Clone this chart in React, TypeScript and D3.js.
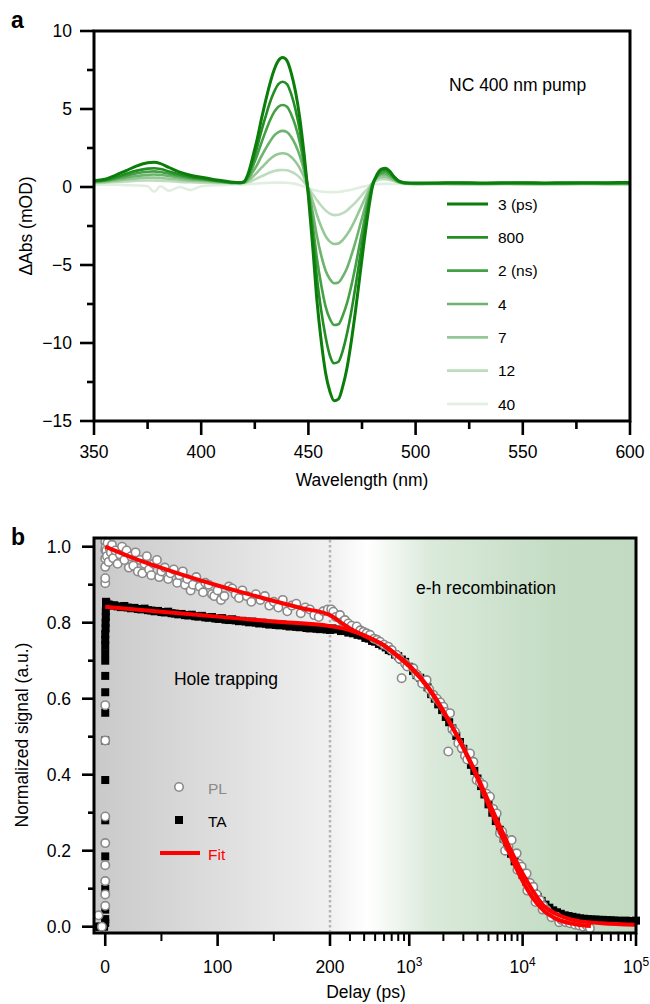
import React from "react";
import * as d3 from "d3";

const FONT = "'Liberation Sans', Arial, Helvetica, sans-serif";

// ---- panel a: transient absorption spectra ----
const wavelengths = [
  350, 355, 360, 365, 370, 375, 378, 381, 385, 390, 395, 400, 405, 410, 415,
  418, 420, 422, 424, 426, 428, 430, 432, 434, 436, 438, 440, 442, 444, 446, 448,
  450, 452, 454, 456, 458, 460, 462, 464, 466, 468, 470, 472, 474, 476, 478, 480,
  482, 484, 486, 488, 490, 492, 495,
  500, 510, 520, 530, 540, 550, 560, 570, 580, 590, 600,
];

const spec3ps = [
  0.4, 0.5, 0.75, 1.05, 1.35, 1.55, 1.58, 1.5, 1.25, 0.95, 0.75, 0.62, 0.5, 0.4, 0.3,
  0.28, 0.35, 0.9, 1.9, 3.0, 4.3, 5.5, 6.6, 7.5, 8.1, 8.3, 8.1, 7.3, 6.1, 4.4, 2.1,
  -0.6, -3.8, -7.3, -9.9, -11.9, -13.1, -13.7, -13.6, -12.8, -11.6, -9.9, -7.9, -5.7, -3.5, -1.5, 0.1,
  0.8, 1.15, 1.2, 1.0, 0.65, 0.4, 0.28,
  0.25, 0.26, 0.28, 0.26, 0.27, 0.28, 0.26, 0.28, 0.27, 0.28, 0.29,
];
const spec800ps = [
  0.38, 0.45, 0.62, 0.85, 1.05, 1.18, 1.2, 1.15, 1.0, 0.8, 0.65, 0.55, 0.45, 0.36, 0.28,
  0.27, 0.33, 0.78, 1.6, 2.5, 3.55, 4.5, 5.4, 6.1, 6.6, 6.75, 6.6, 5.95, 4.95, 3.6, 1.7,
  -0.45, -3.0, -5.85, -7.95, -9.6, -10.8, -11.3, -11.2, -10.5, -9.4, -8.0, -6.35, -4.55, -2.8, -1.15, 0.15,
  0.75, 1.05, 1.1, 0.92, 0.6, 0.38, 0.26,
  0.24, 0.25, 0.26, 0.24, 0.25, 0.26, 0.24, 0.25, 0.26, 0.25, 0.26,
];
const spec2ns = [
  0.35, 0.42, 0.55, 0.72, 0.88, 0.98, 1.0, 0.96, 0.85, 0.7, 0.58, 0.5, 0.42, 0.34, 0.27,
  0.27, 0.31, 0.66, 1.3, 2.0, 2.8, 3.55, 4.25, 4.8, 5.15, 5.26, 5.15, 4.65, 3.9, 2.85, 1.4,
  -0.3, -2.4, -4.6, -6.3, -7.65, -8.45, -8.85, -8.8, -8.25, -7.45, -6.35, -5.05, -3.6, -2.2, -0.85, 0.2,
  0.7, 0.92, 0.95, 0.8, 0.55, 0.35, 0.25,
  0.23, 0.24, 0.25, 0.23, 0.24, 0.25, 0.23, 0.24, 0.25, 0.24, 0.25,
];
const spec4ns = [
  0.32, 0.38, 0.48, 0.6, 0.7, 0.78, 0.8, 0.77, 0.7, 0.6, 0.5, 0.45, 0.38, 0.32, 0.26,
  0.26, 0.29, 0.52, 0.95, 1.4, 1.95, 2.45, 2.9, 3.3, 3.52, 3.6, 3.52, 3.2, 2.7, 2.0, 1.05,
  -0.15, -1.6, -3.15, -4.4, -5.35, -5.9, -6.17, -6.12, -5.75, -5.2, -4.4, -3.5, -2.5, -1.5, -0.55, 0.25,
  0.62, 0.8, 0.8, 0.68, 0.5, 0.33, 0.24,
  0.22, 0.23, 0.22, 0.21, 0.23, 0.22, 0.21, 0.22, 0.23, 0.22, 0.22,
];
const spec7ns = [
  0.28, 0.33, 0.4, 0.48, 0.55, 0.6, 0.6, 0.58, 0.53, 0.46, 0.4, 0.38, 0.33, 0.29, 0.25,
  0.25, 0.27, 0.4, 0.65, 0.92, 1.22, 1.5, 1.78, 2.0, 2.12, 2.16, 2.12, 1.92, 1.62, 1.2, 0.62,
  -0.1, -0.9, -1.8, -2.55, -3.15, -3.5, -3.65, -3.62, -3.4, -3.05, -2.6, -2.05, -1.45, -0.85, -0.25, 0.3,
  0.55, 0.65, 0.65, 0.55, 0.42, 0.3, 0.23,
  0.2, 0.21, 0.2, 0.19, 0.21, 0.2, 0.19, 0.2, 0.21, 0.2, 0.2,
];
const spec12ns = [
  0.25, 0.28, 0.32, 0.36, 0.4, 0.42, 0.42, 0.4, 0.38, 0.33, 0.3, 0.28, 0.26, 0.25, 0.24,
  0.25, 0.26, 0.32, 0.42, 0.55, 0.68, 0.8, 0.93, 1.02, 1.08, 1.09, 1.07, 0.98, 0.83, 0.6, 0.3,
  -0.05, -0.45, -0.85, -1.2, -1.5, -1.7, -1.8, -1.78, -1.68, -1.5, -1.25, -0.98, -0.68, -0.35, -0.05, 0.25,
  0.42, 0.5, 0.5, 0.45, 0.38, 0.3, 0.22,
  0.18, 0.19, 0.18, 0.17, 0.19, 0.18, 0.17, 0.18, 0.19, 0.18, 0.18,
];
const spec40ns = [
  0.12, 0.14, 0.15, 0.12, 0.1, 0.05, -0.3, 0.05, -0.25, 0.0, -0.2, 0.05, 0.1, 0.12, 0.14,
  0.15, 0.16, 0.18, 0.2, 0.22, 0.24, 0.26, 0.27, 0.28, 0.28, 0.28, 0.27, 0.24, 0.2, 0.12, 0.02,
  -0.08, -0.17, -0.24, -0.29, -0.32, -0.33, -0.33, -0.31, -0.28, -0.23, -0.17, -0.1, -0.03, 0.04, 0.1, 0.15,
  0.18, 0.2, 0.2, 0.2, 0.19, 0.19, 0.18,
  0.15, 0.14, 0.15, 0.13, 0.14, 0.15, 0.13, 0.14, 0.15, 0.14, 0.14,
];

const delayLabels = ["3 (ps)", "800", "2 (ns)", "4", "7", "12", "40"];
const spectra = [spec3ps, spec800ps, spec2ns, spec4ns, spec7ns, spec12ns, spec40ns];
const greens = ["#0a7d0a", "#238e23", "#44a044", "#6cb36c", "#94c894", "#bcdcbc", "#e0efe0"];

// ---- panel b: kinetics ----
// [delay ps, normalized signal]
const plPoints = [
  [-6, 0.03], [-3, 0.0], [0, 0.055], [0, 0.085], [0, 0.12], [0, 0.162], [0, 0.22], [0, 0.29],
  [0, 0.49], [0, 0.583], [0, 0.904], [0, 0.917], [0, 0.947], [0, 0.969], [0, 0.991], [0, 1.013],
  [0.5, 1.0], [1, 0.99], [1.5, 0.975], [2, 1.01], [3, 0.96], [4, 0.995], [5, 0.985], [6, 1.005],
  [7, 0.97], [9, 0.99], [11, 0.955], [13, 0.98], [15, 1.0], [17, 0.965], [19, 0.99], [21, 0.945],
  [23, 0.975], [25, 0.95], [27, 0.985], [29, 0.935], [31, 0.965], [33, 0.93], [35, 0.955], [37, 0.975],
  [39, 0.94], [41, 0.925], [43, 0.955], [46, 0.965], [48, 0.92], [50, 0.935], [53, 0.945], [56, 0.915],
  [58, 0.93], [61, 0.94], [64, 0.905], [66, 0.925], [69, 0.935], [71, 0.9], [73, 0.915], [76, 0.885],
  [78, 0.9], [81, 0.92], [84, 0.895], [87, 0.88], [89, 0.905], [92, 0.9], [95, 0.875], [97, 0.87],
  [100, 0.885], [103, 0.86], [106, 0.87], [110, 0.895], [113, 0.89], [116, 0.875], [119, 0.865],
  [122, 0.885], [126, 0.87], [130, 0.855], [134, 0.875], [138, 0.86], [142, 0.87], [146, 0.845],
  [150, 0.855], [154, 0.84], [158, 0.86], [162, 0.83], [166, 0.845], [170, 0.85], [174, 0.825],
  [178, 0.84], [182, 0.835], [186, 0.82], [190, 0.815], [194, 0.83], [198, 0.835],
  [205, 0.835], [214, 0.829], [225, 0.815], [245, 0.82], [260, 0.803], [271, 0.807], [290, 0.798],
  [310, 0.792], [344, 0.79], [370, 0.78], [394, 0.776], [420, 0.772], [451, 0.768], [490, 0.758],
  [520, 0.755], [552, 0.75], [600, 0.742], [653, 0.737], [700, 0.728], [774, 0.715], [820, 0.705],
  [857, 0.654], [917, 0.693], [960, 0.685], [1086, 0.68], [1150, 0.665], [1202, 0.658], [1300, 0.64],
  [1423, 0.649], [1500, 0.625], [1630, 0.61], [1750, 0.6], [1880, 0.59], [1997, 0.579], [2100, 0.565],
  [2211, 0.461], [2286, 0.562], [2400, 0.52], [2530, 0.513], [2708, 0.483], [2900, 0.47], [3100, 0.45],
  [3250, 0.44], [3432, 0.456], [3674, 0.434], [3930, 0.386], [4200, 0.38], [4500, 0.373], [4800, 0.35],
  [5152, 0.342], [5500, 0.31], [5900, 0.298], [6312, 0.246], [6600, 0.25], [6980, 0.228], [7000, 0.2],
  [7500, 0.21], [8000, 0.228], [8400, 0.19], [8860, 0.193], [9000, 0.15], [9300, 0.165], [9800, 0.158],
  [10300, 0.14], [10840, 0.14], [11000, 0.095], [11600, 0.115], [12420, 0.105], [13000, 0.065],
  [13300, 0.085], [14220, 0.07], [15000, 0.045], [15200, 0.055], [16290, 0.044], [17800, 0.032],
  [18000, 0.025], [19940, 0.026], [21000, 0.012], [22000, 0.018], [24000, 0.012], [26140, 0.009],
  [29000, 0.005], [31500, 0.003], [34280, 0.0], [37000, 0.002], [39240, -0.004],
];

const taPoints = [
  [-7, 0.0], [-5, 0.0], [-3, 0.0], [-1, 0.0], [0, 0.01], [0, 0.02], [0, 0.045], [0, 0.1], [0, 0.185],
  [0, 0.28], [0, 0.386], [0, 0.49], [0, 0.563], [0, 0.617], [0, 0.66], [0, 0.7], [0, 0.72], [0, 0.74],
  [0, 0.755], [0, 0.77], [0.3, 0.785], [0.3, 0.8], [0.5, 0.815], [0.5, 0.83], [0.7, 0.845], [0.7, 0.855],
  [1, 0.852], [3, 0.848], [5, 0.845], [8, 0.846], [11, 0.843], [14, 0.841], [17, 0.844], [20, 0.84],
  [23, 0.838], [26, 0.839], [29, 0.836], [32, 0.835], [35, 0.837], [38, 0.833], [41, 0.832], [44, 0.83],
  [47, 0.831], [50, 0.828], [53, 0.827], [56, 0.829], [59, 0.825], [62, 0.824], [65, 0.822], [68, 0.823],
  [71, 0.82], [74, 0.819], [77, 0.821], [80, 0.817], [83, 0.816], [86, 0.818], [89, 0.814], [92, 0.813],
  [95, 0.815], [98, 0.811], [101, 0.81], [104, 0.812], [107, 0.808], [110, 0.807], [113, 0.809],
  [116, 0.806], [119, 0.804], [122, 0.805], [125, 0.803], [128, 0.801], [131, 0.803], [134, 0.8],
  [137, 0.798], [140, 0.8], [143, 0.797], [146, 0.795], [149, 0.797], [152, 0.794], [155, 0.793],
  [158, 0.795], [161, 0.792], [164, 0.79], [167, 0.792], [170, 0.789], [173, 0.788], [176, 0.79],
  [179, 0.786], [182, 0.785], [185, 0.787], [188, 0.784], [191, 0.783], [194, 0.785], [197, 0.782],
  [200, 0.781], [210, 0.785], [230, 0.782], [250, 0.778], [270, 0.779], [290, 0.774], [320, 0.772],
  [350, 0.768], [380, 0.766], [410, 0.76], [440, 0.758], [470, 0.752], [500, 0.75], [540, 0.744],
  [580, 0.74], [620, 0.735], [660, 0.728], [700, 0.725], [750, 0.716], [800, 0.712], [860, 0.703],
  [920, 0.697], [1000, 0.684], [1080, 0.673], [1160, 0.662], [1250, 0.655], [1350, 0.64], [1450, 0.63],
  [1560, 0.612], [1680, 0.6], [1800, 0.585], [1950, 0.57], [2100, 0.552], [2250, 0.538], [2400, 0.522],
  [2600, 0.502], [2800, 0.486], [3000, 0.468], [3250, 0.448], [3500, 0.426], [3750, 0.41], [4000, 0.39],
  [4300, 0.37], [4600, 0.348], [5000, 0.322], [5400, 0.3], [5800, 0.278], [6300, 0.255], [6800, 0.232],
  [7300, 0.21], [7900, 0.192], [8500, 0.172], [9200, 0.152], [10000, 0.136], [10800, 0.118],
  [11700, 0.104], [12600, 0.09], [13600, 0.078], [14700, 0.068], [15900, 0.058], [17200, 0.05],
  [18600, 0.043], [20100, 0.038], [21700, 0.034], [23500, 0.03], [25400, 0.028], [27500, 0.026],
  [29700, 0.024], [32100, 0.022], [34700, 0.021], [37500, 0.02], [40500, 0.019], [43800, 0.019],
  [47300, 0.018], [51100, 0.018], [55200, 0.017], [59700, 0.017], [64500, 0.016], [69700, 0.016],
  [75300, 0.015], [81400, 0.016], [88000, 0.015], [95100, 0.015], [100000, 0.016],
];

const fitPl = [
  [0, 1.0], [25, 0.97], [50, 0.944], [75, 0.92], [100, 0.898], [125, 0.877], [150, 0.857], [175, 0.838],
  [200, 0.82], [250, 0.8], [300, 0.785], [400, 0.766], [600, 0.74], [800, 0.712], [1000, 0.688],
  [1500, 0.627], [2000, 0.568], [3000, 0.47], [4000, 0.39], [5000, 0.32], [6000, 0.265], [8000, 0.18],
  [10000, 0.12], [12000, 0.08], [15000, 0.045], [20000, 0.02], [30000, 0.006], [40000, 0.002],
];
const fitTa = [
  [0, 0.842], [50, 0.829], [100, 0.816], [150, 0.803], [200, 0.791], [300, 0.78], [400, 0.767],
  [600, 0.74], [800, 0.71], [1000, 0.685], [1500, 0.624], [2000, 0.565], [3000, 0.472], [4000, 0.395],
  [5000, 0.33], [6000, 0.278], [8000, 0.197], [10000, 0.14], [12000, 0.1], [15000, 0.058],
  [20000, 0.033], [30000, 0.016], [50000, 0.009], [100000, 0.005],
];

const linTicks = [0, 100, 200];
const logTicks = [1e3, 1e4, 1e5];

function PanelA() {
  const x = d3.scaleLinear().domain([350, 600]).range([94, 630]);
  const y = d3.scaleLinear().domain([-15, 10]).range([421, 31]);
  const line = d3
    .line<number>()
    .x((_, i) => x(wavelengths[i]))
    .y((d) => y(d))
    .curve(d3.curveMonotoneX);

  const xMajor = d3.range(350, 601, 50);
  const xMinor = d3.range(375, 600, 50);
  const yMajor = d3.range(-15, 11, 5);
  const yMinor = d3.range(-12.5, 10, 5);
  const legendY = d3.scaleLinear().domain([0, 6]).range([204, 404]);

  return (
    <g>
      <text x={11} y={28} fontSize={23} fontWeight="bold">a</text>
      {/* curves, lightest first */}
      {spectra
        .map((s, i) => ({ s, i }))
        .reverse()
        .map(({ s, i }) => (
          <path key={i} d={line(s) || ""} fill="none" stroke={greens[i]}
            strokeWidth={i === 0 ? 3 : 2.6} strokeLinejoin="round" />
        ))}
      {/* frame */}
      <rect x={94} y={31} width={536} height={390} fill="none" stroke="#000" strokeWidth={3} />
      {yMajor.map((v) => (
        <g key={v}>
          <line x1={80} x2={94} y1={y(v)} y2={y(v)} stroke="#000" strokeWidth={2.6} />
          <text x={72} y={y(v)} dy="0.36em" textAnchor="end" fontSize={17.5}>
            {v < 0 ? "\u2212" + Math.abs(v) : v}
          </text>
        </g>
      ))}
      {yMinor.map((v) => (
        <line key={v} x1={87} x2={94} y1={y(v)} y2={y(v)} stroke="#000" strokeWidth={2.6} />
      ))}
      {xMajor.map((v) => (
        <g key={v}>
          <line x1={x(v)} x2={x(v)} y1={421} y2={435} stroke="#000" strokeWidth={2.6} />
          <text x={x(v)} y={458} textAnchor="middle" fontSize={17.5}>{v}</text>
        </g>
      ))}
      {xMinor.map((v) => (
        <line key={v} x1={x(v)} x2={x(v)} y1={421} y2={429} stroke="#000" strokeWidth={2.6} />
      ))}
      <text x={362} y={486} textAnchor="middle" fontSize={17.5}>Wavelength (nm)</text>
      <text transform={`translate(32,226) rotate(-90)`} textAnchor="middle" fontSize={17.5}>
        ΔAbs (mOD)
      </text>
      <text x={449} y={91} fontSize={17.5}>NC 400 nm pump</text>
      {delayLabels.map((d, i) => (
        <g key={d}>
          <line x1={447} x2={488} y1={legendY(i)} y2={legendY(i)} stroke={greens[i]}
            strokeWidth={i === 0 ? 3 : 2.6} />
          <text x={498} y={legendY(i)} dy="0.36em" fontSize={15.5}>{d}</text>
        </g>
      ))}
    </g>
  );
}

function PanelB() {
  const xLin = d3.scaleLinear().domain([-10, 200]).range([94, 330]);
  const xLog = d3.scaleLog().domain([200, 1e5]).range([330, 636]);
  const fx = (t: number) => (t <= 200 ? xLin(t) : xLog(t));
  const y = d3.scaleLinear().domain([0, 1]).range([926.7, 546.7]);
  const fitLine = d3
    .line<number[]>()
    .x((d) => fx(d[0]))
    .y((d) => y(d[1]))
    .curve(d3.curveMonotoneX);

  const linMinor = [50, 150];
  const logMinor: number[] = [];
  [100, 1000, 10000].forEach((dec) => {
    for (let k = 2; k <= 9; k++) {
      const t = k * dec;
      if (t > 200) logMinor.push(t);
    }
  });
  const yMajor = [0, 0.2, 0.4, 0.6, 0.8, 1.0];
  const yMinor = [0.1, 0.3, 0.5, 0.7, 0.9];

  return (
    <g>
      <defs>
        <linearGradient id="bgB" gradientUnits="userSpaceOnUse" x1={94} x2={636} y1={0} y2={0}>
          <stop offset="0" stopColor="#c9c9c9" />
          <stop offset="0.435" stopColor="#f0f0f0" />
          <stop offset="0.505" stopColor="#ffffff" />
          <stop offset="0.62" stopColor="#dbeadb" />
          <stop offset="0.85" stopColor="#c4dcc4" />
          <stop offset="1" stopColor="#c2dac2" />
        </linearGradient>
      </defs>
      <text x={11} y={545} fontSize={23} fontWeight="bold">b</text>
      <rect x={94} y={538} width={542} height={395} fill="url(#bgB)" />
      <line x1={330} x2={330} y1={540} y2={931} stroke="#b4b4b4" strokeWidth={2.5}
        strokeDasharray="2.5,2.5" />
      {taPoints.map((d, i) => (
        <rect key={i} x={fx(d[0]) - 4} y={y(d[1]) - 4} width={8} height={8} fill="#000" />
      ))}
      {plPoints.map((d, i) => (
        <circle key={i} cx={fx(d[0])} cy={y(d[1])} r={4.2} fill="#fff" stroke="#8a8a8a"
          strokeWidth={1.6} />
      ))}
      <path d={fitLine(fitPl) || ""} fill="none" stroke="#ff0000" strokeWidth={4} />
      <path d={fitLine(fitTa) || ""} fill="none" stroke="#ff0000" strokeWidth={4} />
      {/* frame */}
      <rect x={94} y={538} width={542} height={395} fill="none" stroke="#000" strokeWidth={3} />
      {yMajor.map((v) => (
        <g key={v}>
          <line x1={82} x2={94} y1={y(v)} y2={y(v)} stroke="#000" strokeWidth={2.6} />
          <text x={71} y={y(v)} dy="0.36em" textAnchor="end" fontSize={17.5}>{v.toFixed(1)}</text>
        </g>
      ))}
      {yMinor.map((v) => (
        <line key={v} x1={88} x2={94} y1={y(v)} y2={y(v)} stroke="#000" strokeWidth={2.6} />
      ))}
      {linTicks.map((v) => (
        <g key={v}>
          <line x1={fx(v)} x2={fx(v)} y1={933} y2={946} stroke="#000" strokeWidth={2.6} />
          <text x={fx(v)} y={973} textAnchor="middle" fontSize={17.5}>{v}</text>
        </g>
      ))}
      {logTicks.map((v) => (
        <g key={v}>
          <line x1={fx(v)} x2={fx(v)} y1={933} y2={946} stroke="#000" strokeWidth={2.6} />
          <text x={fx(v)} y={973} textAnchor="middle" fontSize={17.5}>
            10<tspan dy={-7} fontSize={12}>{Math.round(Math.log10(v))}</tspan>
          </text>
        </g>
      ))}
      {linMinor.concat(logMinor).map((v) => (
        <line key={v} x1={fx(v)} x2={fx(v)} y1={933} y2={941} stroke="#000" strokeWidth={2} />
      ))}
      <text x={366} y={998} textAnchor="middle" fontSize={17.5}>Delay (ps)</text>
      <text transform={`translate(28,735) rotate(-90)`} textAnchor="middle" fontSize={17.5}>
        Normalized signal (a.u.)
      </text>
      <text x={226} y={679} dy="0.36em" textAnchor="middle" fontSize={17.5}>Hole trapping</text>
      <text x={486} y={588} dy="0.36em" textAnchor="middle" fontSize={17.5}>e-h recombination</text>
      {/* legend */}
      <circle cx={179} cy={787} r={4.2} fill="#fff" stroke="#8a8a8a" strokeWidth={1.6} />
      <text x={208} y={788} dy="0.36em" fontSize={15.5} fill="#8a8a8a">PL</text>
      <rect x={175} y={816} width={8} height={8} fill="#000" />
      <text x={208} y={821} dy="0.36em" fontSize={15.5}>TA</text>
      <line x1={160} x2={200} y1={853} y2={853} stroke="#ff0000" strokeWidth={4} />
      <text x={208} y={854} dy="0.36em" fontSize={15.5} fill="#ff0000">Fit</text>
    </g>
  );
}

export default function App() {
  return (
    <svg width={650} height={1004} fontFamily={FONT}
      style={{ position: "absolute", left: 0, top: 0, background: "#fff" }}>
      <PanelA />
      <PanelB />
    </svg>
  );
}
